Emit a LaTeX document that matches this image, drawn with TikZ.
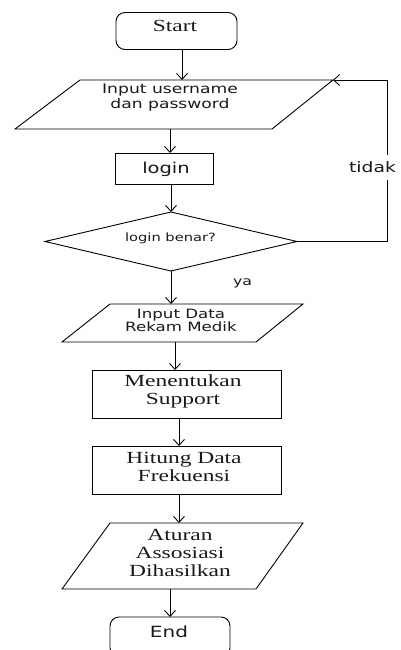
\documentclass[tikz,border=0pt]{standalone}
\usepackage{fontspec}
\setmainfont{Liberation Serif}
\newfontfamily\wsans[FakeStretch=1.3]{DejaVu Sans}
\newfontfamily\wserif[FakeStretch=1.38]{Liberation Serif}
\usetikzlibrary{arrows.meta,shapes.geometric}
\begin{document}
\begin{tikzpicture}[x=1pt,y=-1pt,
  every node/.style={inner sep=0pt, outer sep=0pt, text=black!90},
  shp/.style={draw=black, line width=0.9pt},
  arr/.style={draw=black, line width=0.9pt, -{Straight Barb[length=6pt,width=11pt]}},
  serifbig/.style={font=\wserif\fontsize{17}{18}\selectfont, align=center},
  sanstext/.style={font=\wsans\fontsize{13.2}{15}\selectfont, align=center}]
\useasboundingbox (0,0) rectangle (401,650);
\clip (0,0) rectangle (401,650);
% Start
\node[shp, rounded corners=9pt, minimum width=121pt, minimum height=37pt] (start) at (176.5,31) {};
\node[serifbig] (starttxt) at (175,26) {Start};
% input username
\draw[shp] (80,80) coordinate (p1tl) -- (333,80) coordinate (p1tr) -- (272,129) coordinate (p1br) -- (15,129) coordinate (p1bl) -- cycle;
\coordinate (p1in) at (182,80);
\coordinate (p1out) at (170,129);
\node[sanstext] (p1) at (170,98) {Input username\\dan password};
% login
\node[shp, minimum width=98pt, minimum height=31pt] (login) at (164,168.5) {};
\node[font=\wsans\fontsize{15}{18}\selectfont] (logintxt) at (166,169) {login};
% decision
\node[shp, diamond, minimum width=252pt, minimum height=59pt] (dec) at (171,241.5) {};
\node[font=\wsans\fontsize{11.3}{13}\selectfont] (dectxt) at (170.5,238) {login benar?};
% input data
\draw[shp] (110,304) coordinate (p2tl) -- (303,304) coordinate (p2tr) -- (256,342) coordinate (p2br) -- (62,342) coordinate (p2bl) -- cycle;
\coordinate (p2in) at (171,304);
\coordinate (p2out) at (175,342);
\node[font=\wsans\fontsize{12.8}{13}\selectfont, align=center] (p2) at (181,320) {Input Data\\Rekam Medik};
% boxes
\node[shp, minimum width=189pt, minimum height=48pt] (box1) at (186.5,394) {};
\node[serifbig] (box1txt) at (183,391) {Menentukan\\Support};
\node[shp, minimum width=189pt, minimum height=48pt] (box2) at (186.5,470) {};
\node[serifbig] (box2txt) at (184,466.5) {Hitung Data\\Frekuensi};
% output
\draw[shp] (110,523) coordinate (p3tl) -- (303,523) coordinate (p3tr) -- (256,589) coordinate (p3br) -- (62,589) coordinate (p3bl) -- cycle;
\coordinate (p3in) at (179,523);
\coordinate (p3out) at (170,589);
\node[serifbig] (p3) at (180,553) {Aturan\\Assosiasi\\Dihasilkan};
% End
\node[shp, rounded corners=9pt, minimum width=120pt, minimum height=40pt] (end) at (170,637) {};
\node[font=\wsans\fontsize{15.4}{18}\selectfont] (endtxt) at (169,632) {End};
% connectors
\draw[arr] (start.south -| p1in) -- (p1in);
\draw[arr] (p1out) -- (p1out |- login.north);
\draw[arr] (login.south -| dec.north) -- (dec.north);
\draw[arr] (dec.south) -- (p2in);
\draw[arr] (p2out) -- (p2out |- box1.north);
\draw[arr] ([xshift=-7.5pt]box1.south) -- ([xshift=-7.5pt]box2.north);
\draw[arr] ([xshift=-7.5pt]box2.south) -- (p3in);
\draw[arr] (p3out) -- (end.north);
\coordinate (loopc) at (387,80);
\draw[arr] (dec.east) -| (loopc) -- (p1tr);
\node[font=\wsans\fontsize{14.4}{16}\selectfont, fill=white, inner xsep=1pt, inner ysep=7pt] (tidak) at (372.5,167.5) {tidak};
\node[font=\wsans\fontsize{12.1}{14}\selectfont] (ya) at (242.5,283) {ya};
\end{tikzpicture}
\end{document}
